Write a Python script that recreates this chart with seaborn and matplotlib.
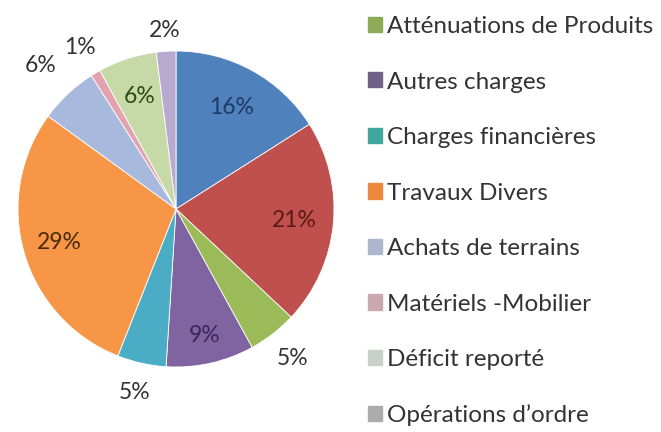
import numpy as np
import matplotlib
matplotlib.use("Agg")
import matplotlib.pyplot as plt
import matplotlib.patches as mpatches
import seaborn as sns

sns.set_theme(style="white")
plt.rcParams["font.family"] = ["Lato", "DejaVu Sans"]

# slices, clockwise from 12 o'clock
categories = ["Charges à caractère général", "Charges de personnel",
              "Atténuations de Produits", "Autres charges", "Charges financières",
              "Travaux Divers", "Achats de terrains", "Matériels -Mobilier",
              "Déficit reporté", "Opérations d’ordre"]
shares = [16, 21, 5, 9, 5, 29, 6, 1, 6, 2]
colors = ["#4F81BD", "#C0504D", "#9BBB59", "#8064A2", "#4BACC6",
          "#F79646", "#A7B9DC", "#E3A3AE", "#C6D9A6", "#B8A9CF"]
label_colors = ["#1F3864", "#5A1A18", "#333333", "#3A2658", "#333333",
                "#4A2A08", "#333333", "#333333", "#2E4A12", "#333333"]
label_dist = [0.73, 0.75, 1.2, 0.82, 1.19, 0.77, 1.25, 1.19, 0.75, 1.13]
# only the last eight entries are visible in the legend
legend_swatch = ["#8DAA55", "#6F6288", "#3FA79C", "#EB8A3D",
                 "#AEB6CC", "#C9A8B2", "#C9CFC9", "#ABABAB"]

fig = plt.figure(figsize=(6.61, 4.32), dpi=100)
cx, cy, r = 176, 209, 158
ax = fig.add_axes([(cx - r) / 661, (432 - cy - r) / 432, 2 * r / 661, 2 * r / 432])

wedges, _ = ax.pie(shares, colors=colors, startangle=90, counterclock=False,
                   wedgeprops=dict(edgecolor="white", linewidth=0.6))
ax.set_xlim(-1, 1)
ax.set_ylim(-1, 1)
ax.set_aspect("equal")

for w, val, col, dist in zip(wedges, shares, label_colors, label_dist):
    ang = np.deg2rad((w.theta1 + w.theta2) / 2)
    ax.text(dist * np.cos(ang), dist * np.sin(ang), f"{val}%",
            ha="center", va="center", fontsize=16.5, color=col)

handles = [mpatches.Patch(color=c) for c in legend_swatch]
fig.legend(handles, categories[2:], loc="upper left",
           bbox_to_anchor=(368 / 661, 1 - 16 / 432), frameon=False,
           fontsize=17.5, handlelength=0.58, handleheight=0.58,
           handletextpad=0.22, labelspacing=1.42, borderpad=0,
           borderaxespad=0, labelcolor="#333333")

fig.savefig("out.png", dpi=100)
